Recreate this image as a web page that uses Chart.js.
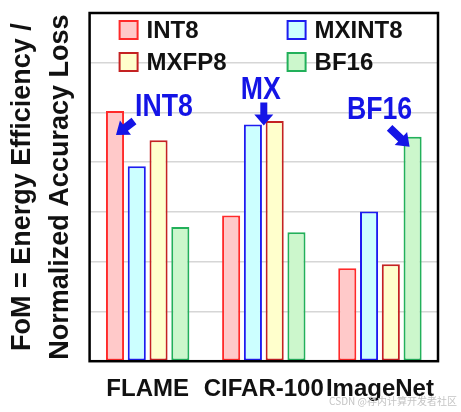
<!DOCTYPE html>
<html>
<head>
<meta charset="utf-8">
<script src="https://cdn.jsdelivr.net/npm/chart.js@4/dist/chart.umd.min.js"></script>
<style>
html,body{margin:0;padding:0;background:#fff;}
#wrap{width:461px;height:412px;position:relative;}
</style>
</head>
<body>
<div id="wrap"><canvas id="c" width="461" height="412"></canvas></div>
<script>
// ---- data ----
const categories = ['FLAME', 'CIFAR-100', 'ImageNet'];
const seriesNames = ['INT8', 'MXINT8', 'MXFP8', 'BF16'];
const int8Values = [5.03, 2.93, 1.87];
const mxint8Values = [3.92, 4.76, 3.01];
const mxfp8Values = [4.44, 4.83, 1.95];
const bf16Values = [2.70, 2.59, 4.51];
const yTitleLines = ['FoM = Energy Efficiency /', 'Normalized Accuracy Loss'];
const calloutLabels = ['INT8', 'MX', 'BF16'];
const watermark = 'CSDN @存内计算开发者社区';

const FONT = "'Liberation Sans', Arial, sans-serif";
const BLUE = '#1414e6';

const styles = [
  {bg: '#ffc9c9', border: '#ff2a2a'},
  {bg: '#ccffff', border: '#1c1cf0'},
  {bg: '#ffffcc', border: '#c42222'},
  {bg: '#ccf7cc', border: '#22b05a'}
];
const seriesValues = [int8Values, mxint8Values, mxfp8Values, bf16Values];

function arrow(ctx, x0, y0, x1, y1, shaftW, headLen, headW) {
  const dx = x1 - x0, dy = y1 - y0;
  const L = Math.hypot(dx, dy);
  const ux = dx / L, uy = dy / L;
  const px = -uy, py = ux;
  const bx = x1 - ux * headLen, by = y1 - uy * headLen;
  ctx.beginPath();
  ctx.moveTo(x0 + px * shaftW / 2, y0 + py * shaftW / 2);
  ctx.lineTo(bx + px * shaftW / 2, by + py * shaftW / 2);
  ctx.lineTo(bx + px * headW / 2, by + py * headW / 2);
  ctx.lineTo(x1, y1);
  ctx.lineTo(bx - px * headW / 2, by - py * headW / 2);
  ctx.lineTo(bx - px * shaftW / 2, by - py * shaftW / 2);
  ctx.lineTo(x0 - px * shaftW / 2, y0 - py * shaftW / 2);
  ctx.closePath();
  ctx.fill();
}

const decor = {
  id: 'decor',
  beforeDraw(chart) {
    const ctx = chart.ctx;
    ctx.save();
    ctx.fillStyle = '#fff';
    ctx.fillRect(0, 0, chart.width, chart.height);
    ctx.restore();
  },
  afterDatasetsDraw(chart) {
    const ctx = chart.ctx;
    const a = chart.chartArea;
    ctx.save();
    // frame
    ctx.strokeStyle = '#000';
    ctx.lineWidth = 2.5;
    ctx.strokeRect(a.left, a.top, a.right - a.left, a.bottom - a.top);

    // legend (2 columns)
    ctx.font = 'bold 24px ' + FONT;
    ctx.textBaseline = 'middle';
    const colX = [a.left + 30, a.left + 198];
    const rowY = [a.top + 17, a.top + 49];
    chart.data.datasets.forEach((ds, i) => {
      const col = i % 2, row = Math.floor(i / 2);
      const x = colX[col], y = rowY[row];
      ctx.fillStyle = ds.backgroundColor;
      ctx.fillRect(x, y - 9, 18, 18);
      ctx.strokeStyle = ds.borderColor;
      ctx.lineWidth = 2;
      ctx.strokeRect(x, y - 9, 18, 18);
      ctx.fillStyle = '#111';
      ctx.fillText(ds.label, x + 27, y + 1);
    });

    // callouts anchored to bars
    ctx.fillStyle = BLUE;
    const b1 = chart.getDatasetMeta(0).data[0];      // INT8 on FLAME
    const b2 = chart.getDatasetMeta(1).data[1];      // MXINT8 on CIFAR
    const b2b = chart.getDatasetMeta(2).data[1];     // MXFP8 on CIFAR
    const b3 = chart.getDatasetMeta(3).data[2];      // BF16 on ImageNet

    function label(text, cx, baseline, size, sx) {
      ctx.save();
      ctx.font = 'bold ' + size + 'px ' + FONT;
      ctx.textAlign = 'center';
      ctx.textBaseline = 'alphabetic';
      ctx.translate(cx, baseline);
      ctx.scale(sx, 1);
      ctx.fillText(text, 0, 0);
      ctx.restore();
    }
    // INT8
    label(calloutLabels[0], b1.x + 49, b1.y + 5, 31, 0.86);
    arrow(ctx, b1.x + 19, b1.y + 10, b1.x + 1, b1.y + 24, 8, 12, 18);
    // MX
    const mxX = (b2.x + b2b.x) / 2;
    label(calloutLabels[1], mxX - 3, b2.y - 25, 31, 0.86);
    arrow(ctx, mxX, b2.y - 22, mxX, b2.y + 1, 7, 11, 19);
    // BF16
    label(calloutLabels[2], b3.x - 33, b3.y - 18, 31, 0.86);
    arrow(ctx, b3.x - 23, b3.y - 9, b3.x - 3, b3.y + 10, 8, 12, 18);

    // watermark
    ctx.font = '10px "Noto Sans CJK SC", ' + FONT;
    ctx.fillStyle = '#c4c4c4';
    ctx.textAlign = 'right';
    ctx.textBaseline = 'middle';
    ctx.fillText(watermark, chart.width - 4, 401);
    ctx.restore();
  }
};

new Chart(document.getElementById('c'), {
  type: 'bar',
  data: {
    labels: categories,
    datasets: seriesNames.map((name, i) => ({
      label: name,
      data: seriesValues[i],
      backgroundColor: styles[i].bg,
      borderColor: styles[i].border,
      borderWidth: 2,
      borderSkipped: false,
      categoryPercentage: 0.75,
      barPercentage: 0.83
    }))
  },
  options: {
    responsive: false,
    animation: false,
    devicePixelRatio: 1,
    layout: {padding: {top: 13, right: 23, bottom: -6, left: 2}},
    plugins: {legend: {display: false}, tooltip: {enabled: false}},
    scales: {
      x: {
        grid: {display: false, drawTicks: false},
        border: {display: false},
        ticks: {
          color: '#111',
          font: {family: FONT, size: 24, weight: 'bold'},
          padding: 14,
          maxRotation: 0,
          autoSkip: false
        }
      },
      y: {
        min: 0,
        max: 7,
        grid: {color: '#d6d6d6', lineWidth: 1.5, drawTicks: false},
        border: {display: false},
        ticks: {display: false, stepSize: 1},
        title: {
          display: true,
          text: yTitleLines,
          color: '#111',
          font: {family: FONT, size: 27, weight: 'bold', lineHeight: 1.4},
          padding: {top: 2, bottom: 10}
        }
      }
    }
  },
  plugins: [decor]
});
</script>
</body>
</html>
